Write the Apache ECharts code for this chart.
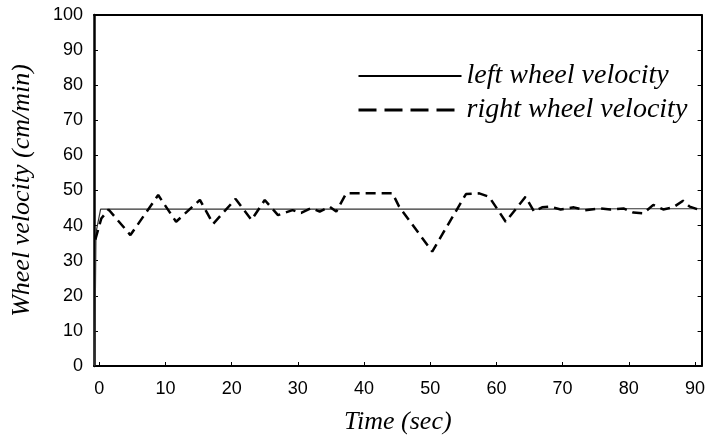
<!DOCTYPE html>
<html>
<head>
<meta charset="utf-8">
<script src="https://cdn.jsdelivr.net/npm/echarts@6/dist/echarts.min.js"></script>
<style>
  html, body { margin: 0; padding: 0; background: #fff; }
  #chart { width: 708px; height: 442px; }
</style>
</head>
<body>
<div id="chart"></div>
<script>
// values
let xTicks = [0, 10, 20, 30, 40, 50, 60, 70, 80, 90];
let leftTime = [-0.7, -0.5, 0.2, 10, 20, 30, 40, 50, 60, 70, 80, 91];
let leftVel = [0, 38, 44.7, 44.7, 44.7, 44.7, 44.7, 44.7, 44.7, 44.7, 44.8, 44.8];
let rightTime = [-0.6, 0.3, 1.4, 4.7, 8.9, 11.6, 15.2, 17.2, 20.6, 23, 25, 27, 29.2, 30.5, 32, 33.3, 34.8, 35.8, 37.3, 44.3, 45.3, 50.3, 55.4, 57.4, 58.9, 61.4, 64.4, 65.7, 66.9, 68.2, 69.7, 71.7, 73.4, 75.5, 77.2, 79.2, 80.7, 82.2, 83.7, 85.2, 86.7, 88.2, 89.2, 90.8];
let rightVel = [36, 42, 44.6, 37.3, 48.7, 41.1, 47.3, 40.5, 47.6, 41.6, 47.3, 43, 44.4, 43.6, 45, 44, 45.4, 44, 49.2, 49.2, 45.4, 32.6, 49, 49.2, 48.2, 41.1, 48.2, 44, 45.2, 45.4, 44.6, 45.2, 44.4, 44.9, 44.6, 44.9, 43.7, 43.5, 45.9, 44.6, 45.2, 47.1, 45.4, 44.4];

function zip(a, b) {
  let out = [];
  for (let i = 0; i < a.length; i++) {
    out.push([a[i], b[i]]);
  }
  return out;
}

let chart = echarts.init(document.getElementById('chart'), null, { renderer: 'canvas' });
let serif = 'Liberation Serif';
let sans = 'Liberation Sans';

let option = {
  animation: false,
  backgroundColor: '#fff',
  color: ['#000', '#000'],
  grid: { left: 94, right: 3, top: 15, bottom: 76, containLabel: false },
  legend: {
    orient: 'vertical',
    left: 352,
    top: 57,
    itemWidth: 103,
    itemHeight: 14,
    itemGap: 6,
    itemStyle: { opacity: 0 },
    textStyle: { fontFamily: serif, fontStyle: 'italic', fontSize: 28, color: '#000' },
    data: [
      { name: 'left wheel velocity', lineStyle: { width: 2, color: '#000', type: 'solid' } },
      { name: 'right wheel velocity', lineStyle: { width: 3, color: '#000', type: [18, 8] } }
    ]
  },
  xAxis: [{
    type: 'value',
    min: -0.8,
    max: 91,
    name: 'Time (sec)',
    nameLocation: 'middle',
    nameGap: 43,
    nameTextStyle: { fontFamily: serif, fontStyle: 'italic', fontSize: 26, color: '#000' },
    axisLine: { onZero: false, lineStyle: { color: '#000', width: 2 } },
    axisTick: { inside: true, length: 4, customValues: xTicks, lineStyle: { color: '#000' } },
    axisLabel: { customValues: xTicks, fontFamily: sans, fontSize: 18, color: '#000', margin: 14 },
    splitLine: { show: false }
  }, {
    type: 'value',
    position: 'top',
    min: -0.8,
    max: 91,
    axisLine: { show: true, onZero: false, lineStyle: { color: '#000', width: 2 } },
    axisTick: { show: false },
    axisLabel: { show: false },
    splitLine: { show: false }
  }],
  yAxis: [{
    type: 'value',
    min: 0,
    max: 100,
    interval: 10,
    name: 'Wheel velocity (cm/min)',
    nameLocation: 'middle',
    nameGap: 59,
    nameTextStyle: { fontFamily: serif, fontStyle: 'italic', fontSize: 26, color: '#000' },
    axisLine: { show: true, onZero: false, lineStyle: { color: '#000', width: 2.5 } },
    axisTick: { inside: true, length: 4, lineStyle: { color: '#000' } },
    axisLabel: { fontFamily: sans, fontSize: 18, color: '#000', margin: 11 },
    splitLine: { show: false }
  }, {
    type: 'value',
    position: 'right',
    min: 0,
    max: 100,
    interval: 10,
    axisLine: { show: true, onZero: false, lineStyle: { color: '#000', width: 2 } },
    axisTick: { inside: true, length: 4, lineStyle: { color: '#000' } },
    axisLabel: { show: false },
    splitLine: { show: false }
  }],
  series: [
    {
      name: 'left wheel velocity',
      type: 'line',
      symbol: 'none',
      data: zip(leftTime, leftVel),
      lineStyle: { color: '#333', width: 1.2, type: 'solid' }
    },
    {
      name: 'right wheel velocity',
      type: 'line',
      symbol: 'none',
      data: zip(rightTime, rightVel),
      lineStyle: { color: '#000', width: 2.5, type: [10, 6] }
    }
  ]
};
chart.setOption(option);
</script>
</body>
</html>
